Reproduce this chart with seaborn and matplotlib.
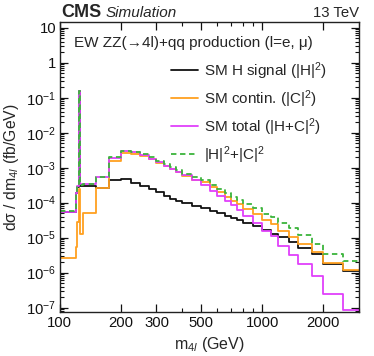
import numpy as np
import pandas as pd
import seaborn as sns
import matplotlib
matplotlib.use("Agg")
from matplotlib import pyplot as plt
from matplotlib import ticker

# bin edges in m4l (GeV)
edges = [100, 120, 122, 124, 126, 130, 150, 175, 200, 225, 250, 275, 300,
         325, 350, 375, 400, 450, 500, 550, 600, 650, 700, 750, 800, 900,
         1000, 1100, 1200, 1350, 1500, 1750, 2000, 2500, 3000]

# dsigma/dm4l (fb/GeV) per bin
sm_h = [5.4e-5, 1.9e-4, 2.9e-4, 0.16, 3.1e-4, 3.1e-4, 2.6e-4, 4.4e-4,
        4.9e-4, 3.7e-4, 3.1e-4, 2.4e-4, 2.0e-4, 1.6e-4, 1.3e-4, 1.14e-4,
        9.5e-5, 8.3e-5, 6.9e-5, 5.9e-5, 5.0e-5, 4.3e-5, 3.6e-5, 3.1e-5,
        2.6e-5, 2.2e-5, 1.66e-5, 1.3e-5, 1.07e-5, 7.6e-6, 5.2e-6, 3.4e-6,
        1.74e-6, 1.12e-6]
sm_cont = [2.6e-6, 5.4e-6, 2.9e-5, 2.4e-4, 1.3e-5, 5.0e-5, 2.6e-4, 1.6e-3,
           2.6e-3, 2.5e-3, 2.2e-3, 1.75e-3, 1.4e-3, 1.14e-3, 9.2e-4, 7.7e-4,
           5.9e-4, 4.6e-4, 4.0e-4, 2.8e-4, 2.0e-4, 1.5e-4, 1.15e-4, 9.1e-5,
           6.6e-5, 4.7e-5, 3.2e-5, 2.4e-5, 1.55e-5, 1.08e-5, 6.7e-6, 3.9e-6,
           1.9e-6, 1.2e-6]
sm_total = [5.4e-5, 1.9e-4, 3.1e-4, 0.16, 3.5e-4, 3.5e-4, 5.4e-4, 1.9e-3,
            3.0e-3, 2.8e-3, 2.3e-3, 1.75e-3, 1.45e-3, 1.1e-3, 9.0e-4, 7.5e-4,
            6.2e-4, 4.5e-4, 3.3e-4, 2.2e-4, 1.6e-4, 1.14e-4, 8.4e-5, 6.3e-5,
            4.3e-5, 2.7e-5, 1.55e-5, 1.12e-5, 5.9e-6, 3.2e-6, 1.8e-6, 7.9e-7,
            2.5e-7, 8.5e-8]
h2_plus_c2 = [5.7e-5, 1.95e-4, 3.2e-4, 0.16, 3.3e-4, 3.5e-4, 5.3e-4, 2.0e-3,
              3.1e-3, 2.9e-3, 2.5e-3, 2.0e-3, 1.6e-3, 1.3e-3, 1.05e-3, 8.8e-4,
              6.8e-4, 5.4e-4, 4.6e-4, 3.3e-4, 2.5e-4, 1.9e-4, 1.5e-4, 1.2e-4,
              9.3e-5, 6.9e-5, 4.8e-5, 3.8e-5, 2.6e-5, 1.86e-5, 1.23e-5, 6.7e-6,
              3.5e-6, 2.2e-6]

labels = ["SM H signal (|H|$^{2}$)", "SM contin. (|C|$^{2}$)",
          "SM total (|H+C|$^{2}$)", "|H|$^{2}$+|C|$^{2}$"]
colors = ["#111111", "#ffa020", "#e040fb", "#3cb43c"]

xticks = [100, 200, 300, 500, 1000, 2000]
xminor = [400, 600, 700, 800, 900, 3000]
yticks = [1e-7, 1e-6, 1e-5, 1e-4, 1e-3, 1e-2, 1e-1, 1, 10]

sns.set_style("ticks", {"xtick.direction": "in", "ytick.direction": "in"})
plt.rcParams["font.family"] = ["Liberation Sans", "DejaVu Sans"]
plt.rcParams["mathtext.fontset"] = "custom"
plt.rcParams["mathtext.rm"] = "Liberation Sans"
plt.rcParams["mathtext.it"] = "Liberation Sans:italic"
plt.rcParams["mathtext.bf"] = "Liberation Sans:bold"

centers = [(lo + hi) / 2 for lo, hi in zip(edges[:-1], edges[1:])]
df = pd.DataFrame({"m4l": centers, "h": sm_h, "c": sm_cont,
                   "tot": sm_total, "sum": h2_plus_c2})

fig = plt.figure(figsize=(3.74, 3.56), dpi=100)
ax = fig.add_axes([0.160, 0.124, 0.800, 0.814])

styles = ["-", "-", "-", (0, (3, 2))]
for col, lab, colr, ls in zip(["h", "c", "tot", "sum"], labels, colors, styles):
    sns.histplot(data=df, x="m4l", weights=col, bins=edges, element="step",
                 fill=False, color=colr, linewidth=1.3, linestyle=ls,
                 label=lab, ax=ax)

ax.set_xscale("log")
ax.set_yscale("log")
ax.set_xlim(100, 3000)
ax.set_ylim(7.6e-8, 14.5)

ax.xaxis.set_major_locator(ticker.FixedLocator(xticks))
ax.xaxis.set_major_formatter(ticker.FixedFormatter([str(t) for t in xticks]))
ax.xaxis.set_minor_locator(ticker.FixedLocator(xminor))
ax.xaxis.set_minor_formatter(ticker.NullFormatter())


def yfmt(v, pos):
    e = int(round(np.log10(v)))
    if e == 1:
        return "10"
    if e == 0:
        return "1"
    return r"$10^{%d}$" % e


ax.yaxis.set_major_locator(ticker.FixedLocator(yticks))
ax.yaxis.set_major_formatter(ticker.FuncFormatter(yfmt))
ax.yaxis.set_minor_locator(ticker.LogLocator(base=10, subs=np.arange(2, 10), numticks=20))
ax.yaxis.set_minor_formatter(ticker.NullFormatter())

ax.tick_params(which="both", direction="in", top=True, right=True,
               labelsize=10.7, colors="#111111")
ax.tick_params(which="major", length=6, width=0.9)
ax.tick_params(which="minor", length=3.2, width=0.8)
ax.tick_params(axis="x", pad=3)
ax.tick_params(axis="y", pad=2.5)
for s in ax.spines.values():
    s.set_linewidth(1.0)
    s.set_color("#222222")

ax.set_xlabel("m$_{4l}$ (GeV)", fontsize=11.5)
ax.set_ylabel("d\u03c3 / dm$_{4l}$ (fb/GeV)", fontsize=11.3)
ax.xaxis.set_label_coords(0.5, -0.079)
ax.yaxis.set_label_coords(-0.13, 0.5)

ax.text(0.047, 0.914, "EW ZZ(\u21924l)+qq production (l=e, \u03bc)",
        transform=ax.transAxes, fontsize=11, va="baseline", ha="left")

ax.legend(loc="upper left", bbox_to_anchor=(171 / 374, 1 - 60 / 356),
          bbox_transform=fig.transFigure, frameon=False, fontsize=11,
          handlelength=1.75, handletextpad=0.4, labelspacing=0.42,
          borderpad=0, borderaxespad=0)

fig.text(0.163, 0.953, "CMS", fontsize=13, fontweight="bold", va="baseline")
fig.text(0.281, 0.953, "Simulation", fontsize=11, style="italic", va="baseline")
fig.text(0.960, 0.953, "13 TeV", fontsize=10.7, ha="right", va="baseline")

fig.savefig("out.png", dpi=100)
